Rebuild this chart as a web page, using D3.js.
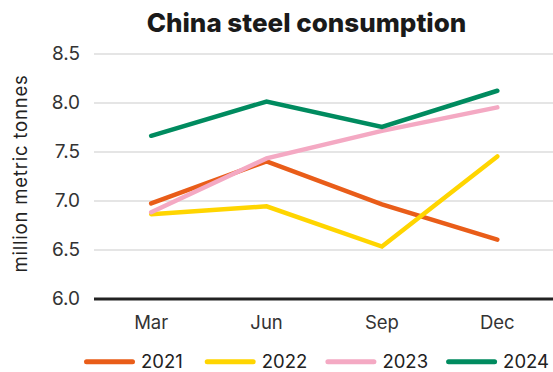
<!DOCTYPE html>
<html>
<head>
<meta charset="utf-8">
<script src="https://cdn.jsdelivr.net/npm/d3@7"></script>
<style>
  html, body { margin: 0; padding: 0; background: #fff; }
  svg { display: block; font-family: Inter, "Noto Sans", sans-serif; }
</style>
</head>
<body>
<svg id="chart" width="553" height="372"></svg>
<script>
// Quarter-end months on the x axis
const months = ["Mar", "Jun", "Sep", "Dec"];
// Yearly series, million metric tonnes
const years = ["2021", "2022", "2023", "2024"];
const v2021 = [6.97, 7.40, 6.96, 6.60];
const v2022 = [6.86, 6.94, 6.53, 7.45];
const v2023 = [6.88, 7.43, 7.71, 7.95];
const v2024 = [7.66, 8.01, 7.75, 8.12];
const yTicks = [6.0, 6.5, 7.0, 7.5, 8.0, 8.5];
const colors = ["#E95D19", "#FFD500", "#F4A9C3", "#008B5F"];

const seriesValues = [v2021, v2022, v2023, v2024];
const series = years.map((yr, i) => ({
  year: yr,
  color: colors[i],
  points: months.map((m, j) => ({ month: m, value: seriesValues[i][j] }))
}));

const svg = d3.select("#chart");
const plotLeft = 94, plotRight = 553;

const x = d3.scaleBand().domain(months).range([93.5, 555]);
const y = d3.scaleLinear().domain([6, 8.5]).range([298.5, 53.5]);

// Title
svg.append("text")
  .attr("x", 306.5).attr("y", 31.5)
  .attr("text-anchor", "middle")
  .style("font-size", "26px").style("font-weight", 800)
  .style("fill", "#1a1a1a")
  .text("China steel consumption");

// Y axis with gridlines
const yAxis = svg.append("g")
  .attr("transform", `translate(${plotLeft},0)`)
  .call(d3.axisLeft(y).tickValues(yTicks).tickFormat(d3.format(".1f"))
    .tickSizeInner(-(plotRight - plotLeft)).tickSizeOuter(0).tickPadding(14));
yAxis.select(".domain").remove();
yAxis.selectAll(".tick line")
  .attr("stroke", d => d === 6 ? "#222" : "#dcdcdc")
  .attr("stroke-width", d => d === 6 ? 2.8 : 1.6);
yAxis.selectAll(".tick text")
  .style("font-size", "19px").style("fill", "#333").style("font-family", "Inter, sans-serif");

// Y axis title
svg.append("text")
  .attr("transform", "translate(26.5,173.5) rotate(-90)")
  .attr("text-anchor", "middle")
  .style("font-size", "18.5px").style("letter-spacing", "0.8px").style("fill", "#222")
  .text("million metric tonnes");

// X axis labels
const xAxis = svg.append("g")
  .attr("transform", `translate(0,${y(6)})`)
  .call(d3.axisBottom(x).tickSize(0).tickPadding(17));
xAxis.select(".domain").remove();
xAxis.selectAll(".tick text")
  .style("font-size", "18.5px").style("fill", "#333").style("font-family", "Inter, sans-serif");

// Series lines
const line = d3.line()
  .x(d => x(d.month) + x.bandwidth() / 2)
  .y(d => y(d.value));

svg.append("g").selectAll("path")
  .data(series)
  .join("path")
  .attr("d", d => line(d.points))
  .attr("fill", "none")
  .attr("stroke", d => d.color)
  .attr("stroke-width", 4.5)
  .attr("stroke-linecap", "round")
  .attr("stroke-linejoin", "miter");

// Legend
const legend = svg.append("g").selectAll("g")
  .data(series)
  .join("g")
  .attr("transform", (d, i) => `translate(${86.5 + i * 120.7},361.7)`);
legend.append("line")
  .attr("x1", 0).attr("x2", 46)
  .attr("stroke", d => d.color)
  .attr("stroke-width", 5)
  .attr("stroke-linecap", "round");
legend.append("text")
  .attr("x", 54.5).attr("y", 6)
  .style("font-size", "18.5px").style("fill", "#222")
  .text(d => d.year);
</script>
</body>
</html>
